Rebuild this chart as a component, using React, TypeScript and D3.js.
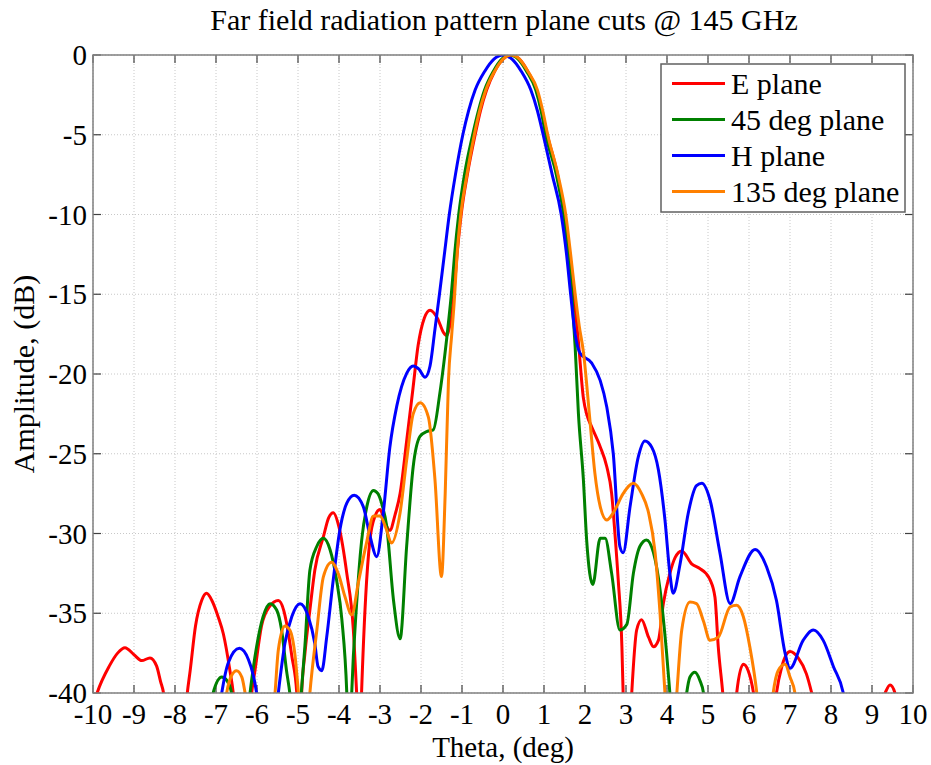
import React from "react";
import * as d3 from "d3";

const W = 931;
const H = 765;
const margin = { left: 93, right: 18, top: 55, bottom: 72 };

const xTicks = [-10, -9, -8, -7, -6, -5, -4, -3, -2, -1, 0, 1, 2, 3, 4, 5, 6, 7, 8, 9, 10];
const yTicks = [0, -5, -10, -15, -20, -25, -30, -35, -40];

const seriesNames = ["E plane", "45 deg plane", "H plane", "135 deg plane"];
const seriesColors = ["#ff0000", "#008000", "#0000ff", "#ff8000"];

// E plane
const eTheta = [-10.2, -9.9, -9.6, -9.4, -9.22, -9.0, -8.81, -8.61, -8.45, -8.35, -8.28, -8.0, -7.7, -7.63, -7.5, -7.35, -7.23, -7.1, -6.95, -6.82, -6.66, -6.58, -6.35, -6.13, -6.05, -5.89, -5.7, -5.48, -5.35, -5.28, -5.15, -5.03, -4.97, -4.91, -4.83, -4.71, -4.59, -4.38, -4.25, -4.14, -4.0, -3.81, -3.65, -3.57, -3.5, -3.45, -3.35, -3.25, -3.12, -3.0, -2.88, -2.76, -2.63, -2.51, -2.35, -2.2, -2.07, -1.92, -1.78, -1.6, -1.45, -1.37, -1.3, -1.26, -1.2, -1.12, -1.02, -0.87, -0.68, -0.55, -0.4, -0.2, 0.0, 0.2, 0.4, 0.6, 0.82, 0.95, 1.08, 1.33, 1.5, 1.63, 1.73, 1.84, 1.96, 2.05, 2.16, 2.37, 2.53, 2.65, 2.73, 2.81, 2.9, 2.93, 3.03, 3.14, 3.26, 3.38, 3.55, 3.67, 3.79, 3.91, 4.07, 4.2, 4.36, 4.6, 4.8, 4.95, 5.05, 5.17, 5.25, 5.36, 5.53, 5.7, 5.86, 5.98, 6.11, 6.4, 6.67, 6.8, 7.0, 7.2, 7.4, 7.53, 8.4, 9.32, 9.44, 9.56, 9.8];
const eDb = [-43, -40, -38.3, -37.5, -37.16, -37.6, -37.97, -37.8, -38.3, -39.3, -40, -52, -40, -38.6, -35.8, -34.2, -33.75, -34.2, -35.2, -36.3, -38.6, -40, -50, -40, -38.6, -35.8, -34.6, -34.2, -34.8, -35.6, -37.7, -40, -45, -40, -37.5, -34.8, -32.3, -30.2, -29.0, -28.7, -29.6, -32.5, -36.05, -40, -44, -40, -34, -30.5, -28.9, -28.5, -29.3, -29.8, -28.8, -27.5, -24.2, -21, -18.2, -16.5, -16.0, -16.5, -17.4, -17.6, -17.0, -16.5, -15, -12.5, -10, -7.5, -5, -3.5, -2.2, -1.0, -0.26, 0, -0.26, -1.0, -2.2, -3.5, -5, -7.5, -10, -12.5, -15, -18, -21.5, -22.6, -23.3, -24.56, -25.8, -27.5, -30.0, -32.9, -37.1, -40, -46, -40, -36.05, -35.4, -36.5, -37.1, -36.7, -34.4, -32.5, -31.5, -31.1, -31.9, -32.2, -32.5, -32.9, -34.0, -37.1, -40, -46, -40, -38.2, -38.6, -40, -48, -40, -38.35, -37.4, -37.8, -38.8, -40, -55, -40, -39.5, -40, -48];

// 45 deg plane
const gTheta = [-7.4, -7.07, -6.86, -6.74, -6.62, -6.4, -6.17, -6.01, -5.85, -5.68, -5.52, -5.4, -5.28, -5.2, -5.06, -4.92, -4.83, -4.71, -4.54, -4.38, -4.22, -4.06, -3.93, -3.81, -3.75, -3.69, -3.57, -3.45, -3.32, -3.16, -3.05, -2.95, -2.84, -2.67, -2.51, -2.35, -2.19, -2.02, -1.85, -1.7, -1.54, -1.37, -1.26, -1.18, -1.08, -0.94, -0.74, -0.6, -0.45, -0.23, -0.03, 0.17, 0.37, 0.57, 0.8, 0.93, 1.04, 1.3, 1.48, 1.6, 1.68, 1.76, 1.84, 1.96, 2.04, 2.19, 2.37, 2.49, 2.65, 2.85, 3.02, 3.18, 3.34, 3.5, 3.67, 3.83, 3.99, 4.07, 4.28, 4.48, 4.56, 4.68, 4.8, 4.89, 5.1];
const gDb = [-48, -40, -39, -39.2, -40, -46, -40, -37.1, -35.2, -34.4, -34.8, -36.05, -38.6, -40, -44, -40, -37, -32.3, -30.8, -30.3, -31.0, -32.9, -35.4, -40, -45, -40, -34.4, -30.5, -28.3, -27.3, -27.5, -28.2, -29.5, -34.2, -36.6, -30.8, -25.8, -23.9, -23.6, -23.5, -21.2, -17.7, -15, -12.5, -10, -7.5, -5, -3.5, -2.2, -1.0, -0.26, 0, -0.26, -1.0, -2.2, -3.5, -5, -7.5, -10, -12.5, -15, -18.3, -22.5, -26.6, -30.4, -33.2, -30.3, -30.3, -32.5, -36.05, -35.7, -32.5, -30.8, -30.4, -31.2, -33.5, -37.5, -40, -46, -40, -39.0, -38.7, -39.2, -40, -48];

// H plane
const hTheta = [-7.2, -6.86, -6.7, -6.43, -6.21, -6.01, -5.75, -5.48, -5.32, -5.15, -4.95, -4.75, -4.59, -4.51, -4.42, -4.3, -4.14, -3.98, -3.81, -3.63, -3.41, -3.24, -3.08, -2.92, -2.76, -2.59, -2.35, -2.19, -2.05, -1.9, -1.78, -1.66, -1.55, -1.43, -1.31, -1.16, -0.98, -0.84, -0.68, -0.44, -0.22, 0.0, 0.22, 0.44, 0.68, 0.84, 0.98, 1.2, 1.42, 1.55, 1.65, 1.76, 1.88, 2.16, 2.37, 2.53, 2.69, 2.85, 2.93, 3.1, 3.3, 3.46, 3.63, 3.79, 3.95, 4.07, 4.15, 4.32, 4.52, 4.72, 4.85, 5.05, 5.29, 5.54, 5.78, 6.15, 6.43, 6.67, 6.88, 7.0, 7.32, 7.57, 7.81, 8.06, 8.3, 8.6];
const hDb = [-48, -40, -38.1, -37.2, -37.9, -40, -47, -40, -36.9, -35.2, -34.4, -35.2, -36.9, -38.35, -38.6, -36.5, -32.9, -29.8, -28.1, -27.6, -28.3, -30.2, -31.45, -28.7, -24.6, -22.0, -19.96, -19.5, -19.7, -20.2, -19.5, -17.2, -15, -12.5, -10, -7.5, -5, -3.5, -2.2, -1.0, -0.26, 0, -0.26, -1.0, -2.2, -3.5, -5, -7.5, -10, -12.5, -15, -17.5, -18.7, -19.3, -20.4, -22.05, -25.0, -30.8, -31.2, -28.3, -25.2, -24.2, -24.6, -26.0, -29.15, -32.5, -33.75, -31.9, -28.7, -27.0, -26.85, -27.9, -31.2, -34.4, -32.7, -31.0, -32.1, -34.2, -37.5, -38.45, -36.7, -36.05, -36.7, -38.35, -40, -46];

// 135 deg plane
const oTheta = [-7.0, -6.74, -6.62, -6.5, -6.37, -6.29, -5.92, -5.56, -5.48, -5.32, -5.2, -5.07, -4.99, -4.85, -4.71, -4.54, -4.38, -4.18, -4.02, -3.85, -3.69, -3.53, -3.33, -3.16, -3.0, -2.85, -2.72, -2.51, -2.35, -2.19, -2.02, -1.82, -1.66, -1.5, -1.41, -1.33, -1.25, -1.19, -1.12, -1.03, -0.88, -0.7, -0.57, -0.42, -0.2, 0.0, 0.2, 0.4, 0.6, 0.84, 0.97, 1.09, 1.34, 1.53, 1.65, 1.76, 1.86, 1.96, 2.12, 2.24, 2.37, 2.53, 2.69, 2.93, 3.18, 3.38, 3.55, 3.71, 3.83, 3.95, 4.1, 4.24, 4.36, 4.56, 4.72, 4.89, 5.05, 5.25, 5.54, 5.7, 5.86, 6.02, 6.19, 6.39, 6.59, 6.71, 6.88, 7.0, 7.12, 7.3];
const oDb = [-47, -40, -38.9, -38.6, -39.0, -40, -48, -40, -37.3, -35.8, -36.05, -37.7, -40, -45, -40, -36.05, -32.7, -31.8, -32.5, -34.0, -35.1, -33.1, -30.6, -28.9, -28.9, -29.7, -30.6, -28.7, -25.4, -22.5, -21.8, -22.7, -26.6, -32.7, -27.5, -20.4, -17.5, -15.5, -12.5, -10, -7.5, -5, -3.5, -2.2, -1.0, -0.26, 0, -0.26, -1.0, -2.2, -3.5, -5, -7.5, -10, -12.5, -15, -17, -18.6, -22.9, -26.2, -28.3, -29.15, -28.7, -27.5, -26.85, -27.5, -28.7, -31.2, -35.0, -40, -45, -40, -36.05, -34.3, -34.4, -35.5, -36.7, -36.5, -34.6, -34.5, -35.2, -37.1, -40, -46, -40, -38.6, -38.2, -39.0, -40, -46];

const thetaSets = [eTheta, gTheta, hTheta, oTheta];
const dbSets = [eDb, gDb, hDb, oDb];

const FONT = "'Liberation Serif', 'Times New Roman', serif";

export default function App() {
  const x = d3.scaleLinear().domain([-10, 10]).range([margin.left, W - margin.right]);
  const y = d3.scaleLinear().domain([-40, 0]).range([H - margin.bottom, margin.top]);
  const x0 = x(-10), x1 = x(10), y0 = y(0), y1 = y(-40);
  const line = d3
    .line<[number, number]>()
    .x((d) => x(d[0]))
    .y((d) => y(d[1]))
    .curve(d3.curveMonotoneX);
  const tickLen = 8;
  const axisColor = "#808080";
  const fs = 30;
  const tfs = 29;

  const legend = { x: 661, y: 64, w: 244, h: 148 };

  return (
    <svg width={W} height={H} style={{ display: "block", position: "absolute", left: 0, top: 0, background: "#fff" }} fontFamily={FONT}>
      <defs>
        <clipPath id="plotClip">
          <rect x={x0} y={y0} width={x1 - x0} height={y1 - y0} />
        </clipPath>
      </defs>
      <rect x={0} y={0} width={W} height={H} fill="#fff" />
      {/* grid */}
      {xTicks.map((t) => (
        <line key={"gx" + t} x1={x(t)} x2={x(t)} y1={y0} y2={y1} stroke="#c8c8c8" strokeWidth={1} strokeDasharray="1,2" />
      ))}
      {yTicks.map((t) => (
        <line key={"gy" + t} x1={x0} x2={x1} y1={y(t)} y2={y(t)} stroke="#c8c8c8" strokeWidth={1} strokeDasharray="1,2" />
      ))}
      {/* ticks */}
      {xTicks.map((t) => (
        <g key={"tx" + t} stroke="#404040" strokeWidth={1.2}>
          <line x1={x(t)} x2={x(t)} y1={y1} y2={y1 - tickLen} />
          <line x1={x(t)} x2={x(t)} y1={y0} y2={y0 + tickLen} />
        </g>
      ))}
      {yTicks.map((t) => (
        <g key={"ty" + t} stroke="#404040" strokeWidth={1.2}>
          <line x1={x0} x2={x0 + tickLen} y1={y(t)} y2={y(t)} />
          <line x1={x1} x2={x1 - tickLen} y1={y(t)} y2={y(t)} />
        </g>
      ))}
      {/* curves */}
      <g clipPath="url(#plotClip)">
        {thetaSets.map((th, i) => {
          const pts: [number, number][] = th.map((t, j) => [t, dbSets[i][j]]);
          return (
            <path key={"s" + i} d={line(pts) || ""} fill="none" stroke={seriesColors[i]} strokeWidth={3} strokeLinejoin="round" strokeLinecap="round" />
          );
        })}
      </g>
      {/* axes box */}
      <rect x={x0} y={y0} width={x1 - x0} height={y1 - y0} fill="none" stroke={axisColor} strokeWidth={1.5} />
      {/* tick labels */}
      {xTicks.map((t) => (
        <text key={"lx" + t} x={x(t)} y={y1 + 31} textAnchor="middle" fontSize={tfs} fill="#000">
          {t}
        </text>
      ))}
      {yTicks.map((t) => (
        <text key={"ly" + t} x={x0 - 6} y={y(t)} dy="0.35em" textAnchor="end" fontSize={tfs} fill="#000">
          {t}
        </text>
      ))}
      {/* title & labels */}
      <text x={504} y={30} textAnchor="middle" fontSize={fs} fill="#000">
        Far field radiation pattern plane cuts @ 145 GHz
      </text>
      <text x={503} y={757} textAnchor="middle" fontSize={tfs} fill="#000">
        Theta, (deg)
      </text>
      <text transform={`translate(34, ${(y0 + y1) / 2}) rotate(-90)`} textAnchor="middle" fontSize={fs} fill="#000">
        Amplitude, (dB)
      </text>
      {/* legend */}
      <rect x={legend.x} y={legend.y} width={legend.w} height={legend.h} fill="#fff" stroke="#606060" strokeWidth={1.5} />
      {seriesNames.map((name, i) => {
        const cy = legend.y + 19.5 + i * 36;
        return (
          <g key={"lg" + i}>
            <line x1={legend.x + 11} x2={legend.x + 64} y1={cy} y2={cy} stroke={seriesColors[i]} strokeWidth={3} />
            <text x={legend.x + 70} y={cy} dy="0.35em" fontSize={fs} fill="#000">
              {name}
            </text>
          </g>
        );
      })}
    </svg>
  );
}
